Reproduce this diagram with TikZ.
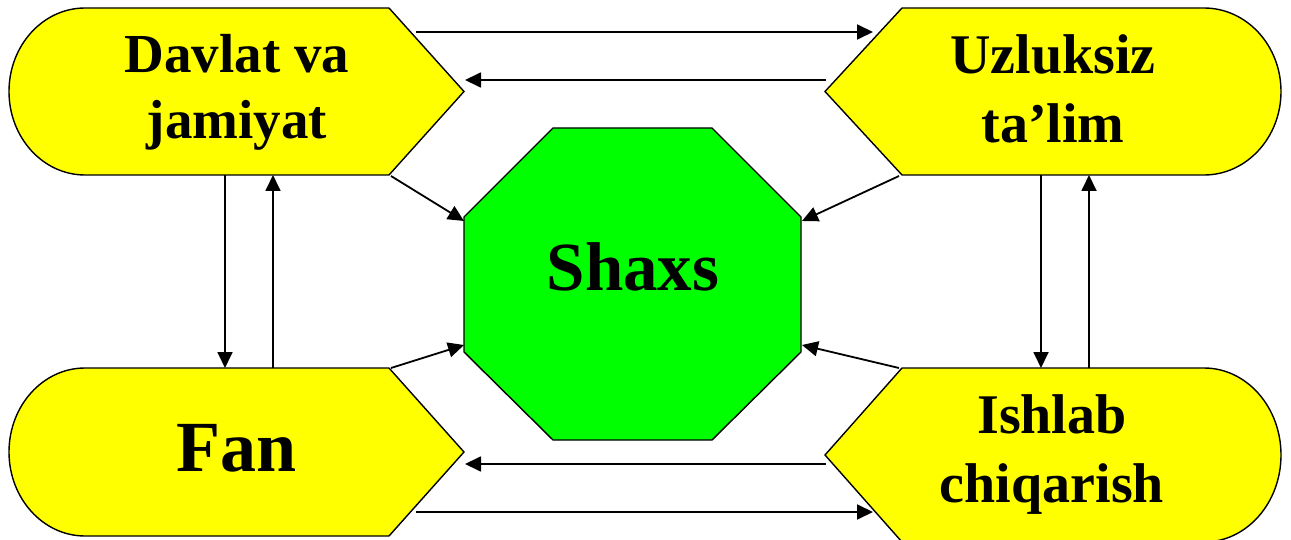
\documentclass[tikz,border=0pt]{standalone}
\usepackage{fontspec}
\setmainfont{Liberation Serif}
\usetikzlibrary{arrows.meta}
\definecolor{pyellow}{RGB}{255,255,0}
\definecolor{pgreen}{RGB}{0,255,0}
\tikzset{
  dispbox/.style={draw=black, line width=1.4pt, fill=pyellow, line join=miter},
  octbox/.style={draw=black, line width=1.4pt, fill=pgreen},
  conn/.style={line width=1.8pt, -{Triangle[length=16pt,width=15pt]}},
  lbl/.style={align=center, inner sep=0pt, text=black},
}
\begin{document}
\begin{tikzpicture}[x=1pt,y=-1pt]
\useasboundingbox (0,0) rectangle (1291,540);
% top-left display shape
\draw[dispbox] (85,8) -- (389,8) -- (464,91.5) -- (389,175) -- (85,175)
  arc[start angle=-270, end angle=-90, x radius=76, y radius=83.5] -- cycle;
% top-right
\draw[dispbox] (902,8) -- (1204,8) arc[start angle=-90, end angle=90, x radius=77, y radius=83.5]
  -- (902,175) -- (825,91.5) -- cycle;
% bottom-left
\draw[dispbox] (85,368) -- (389,368) -- (464,452) -- (389,536) -- (85,536)
  arc[start angle=-270, end angle=-90, x radius=76, y radius=84] -- cycle;
% bottom-right
\draw[dispbox] (902,368) -- (1204,368) arc[start angle=-90, end angle=90, x radius=77, y radius=87]
  -- (902,542) -- (825,455) -- cycle;
% octagon
\draw[octbox] (553,128) -- (712,128) -- (801,217) -- (801,352) -- (712,440)
  -- (553,440) -- (464,352) -- (464,217) -- cycle;

% labels
\node[lbl, font=\fontsize{55}{66}\selectfont\bfseries] (dj) at (237,92) {Davlat va\\jamiyat};
\node[lbl, font=\fontsize{56}{69}\selectfont\bfseries] (ut) at (1053,89) {Uzluksiz\\ta’lim};
\node[lbl, font=\fontsize{72}{80}\selectfont\bfseries] (fan) at (237,448.5) {Fan};
\node[lbl, font=\fontsize{56}{69}\selectfont\bfseries] (ic) at (1052,455) {Ishlab\\chiqarish};
\node[lbl, font=\fontsize{69}{80}\selectfont\bfseries] (sh) at (633,267) {Shaxs};

% connector end points
\coordinate (h1a) at (416,32);   \coordinate (h1b) at (873,32);
\coordinate (h2a) at (826,80);   \coordinate (h2b) at (465,80);
\coordinate (h3a) at (826,464);  \coordinate (h3b) at (465,464);
\coordinate (h4a) at (416,512);  \coordinate (h4b) at (873,512);
\coordinate (v1a) at (225,175);  \coordinate (v1b) at (225,368);
\coordinate (v2a) at (273,368);  \coordinate (v2b) at (273,175);
\coordinate (v3a) at (1041,175); \coordinate (v3b) at (1041,368);
\coordinate (v4a) at (1089,368); \coordinate (v4b) at (1089,175);
\coordinate (d1a) at (391,176);  \coordinate (d1b) at (464,221);
\coordinate (d2a) at (899,176);  \coordinate (d2b) at (802,221);
\coordinate (d3a) at (391,368);  \coordinate (d3b) at (464,345);
\coordinate (d4a) at (899,368);  \coordinate (d4b) at (802,345);

\draw[conn] (h1a) -- (h1b);
\draw[conn] (h2a) -- (h2b);
\draw[conn] (h3a) -- (h3b);
\draw[conn] (h4a) -- (h4b);
\draw[conn] (v1a) -- (v1b);
\draw[conn] (v2a) -- (v2b);
\draw[conn] (v3a) -- (v3b);
\draw[conn] (v4a) -- (v4b);
\draw[conn] (d1a) -- (d1b);
\draw[conn] (d2a) -- (d2b);
\draw[conn] (d3a) -- (d3b);
\draw[conn] (d4a) -- (d4b);
\end{tikzpicture}
\end{document}
